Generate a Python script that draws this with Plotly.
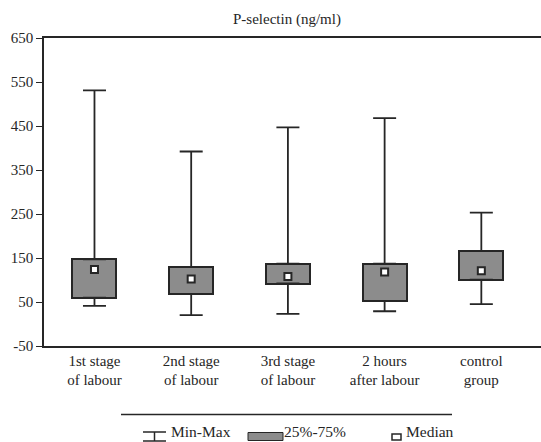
import plotly.graph_objects as go

categories = ["1st stage<br>of labour", "2nd stage<br>of labour", "3rd stage<br>of labour",
              "2 hours<br>after labour", "control<br>group"]
mins = [41, 20, 23, 29, 45]
q1 = [60, 68, 92, 52, 101]
medians = [124, 102, 108, 118, 121]
q3 = [147, 130, 137, 137, 166]
maxs = [531, 392, 447, 468, 253]
y_ticks = [-50, 50, 150, 250, 350, 450, 550, 650]

W, H = 541, 442
L, R, T, B = 44, 0, 38, 96
DARK = "#262626"
GRAY = "#8c8c8c"
FONT = "Liberation Serif, 'Times New Roman', Times, serif"
FS = 15

fig = go.Figure()

# boxes (25%-75%)
fig.add_trace(go.Bar(
    x=categories, y=[b - a for a, b in zip(q1, q3)], base=q1, width=0.455,
    marker=dict(color=GRAY, line=dict(color=DARK, width=2)), showlegend=False,
    hoverinfo="skip"))

# upper whiskers
fig.add_trace(go.Scatter(
    x=categories, y=q3, mode="markers", marker=dict(size=1, color="rgba(0,0,0,0)"),
    error_y=dict(type="data", symmetric=False, array=[m - q for m, q in zip(maxs, q3)],
                 arrayminus=[0] * len(q3), color=DARK, thickness=1.8, width=11.5),
    showlegend=False, hoverinfo="skip"))
# lower whiskers
fig.add_trace(go.Scatter(
    x=categories, y=q1, mode="markers", marker=dict(size=1, color="rgba(0,0,0,0)"),
    error_y=dict(type="data", symmetric=False, array=[0] * len(q1),
                 arrayminus=[q - m for q, m in zip(q1, mins)], color=DARK, thickness=1.8, width=11.5),
    showlegend=False, hoverinfo="skip"))
# medians
fig.add_trace(go.Scatter(
    x=categories, y=medians, mode="markers",
    marker=dict(symbol="square", size=7, color="white", line=dict(color=DARK, width=2)),
    showlegend=False, hoverinfo="skip"))

pw = W - L - R
ph = H - T - B

def px(x):
    return (x - L) / pw

def py(y):
    return (H - B - y) / ph

shapes = [
    # legend separator line
    dict(type="line", xref="paper", yref="paper", x0=px(121), x1=px(452), y0=py(414.5), y1=py(414.5),
         line=dict(color=DARK, width=1.5)),
    # min-max symbol
    dict(type="line", xref="paper", yref="paper", x0=px(143), x1=px(166), y0=py(432), y1=py(432),
         line=dict(color=DARK, width=1.5)),
    dict(type="line", xref="paper", yref="paper", x0=px(154.5), x1=px(154.5), y0=py(432), y1=py(441),
         line=dict(color=DARK, width=1.5)),
    dict(type="line", xref="paper", yref="paper", x0=px(143), x1=px(166), y0=py(441), y1=py(441),
         line=dict(color=DARK, width=1.5)),
    # 25-75 symbol
    dict(type="rect", xref="paper", yref="paper", x0=px(248), x1=px(283), y0=py(432.5), y1=py(440.5),
         fillcolor=GRAY, line=dict(color=DARK, width=1)),
    # median symbol
    dict(type="rect", xref="paper", yref="paper", x0=px(392), x1=px(401), y0=py(434), y1=py(440),
         fillcolor="white", line=dict(color=DARK, width=1.5)),
]

LEG_FS = 15.5
annotations = [
    dict(text="P-selectin (ng/ml)", xref="paper", yref="paper", x=px(287), y=py(20),
         showarrow=False, font=dict(family=FONT, size=FS, color=DARK), xanchor="center", yanchor="middle"),
    dict(text="Min-Max", xref="paper", yref="paper", x=px(169), y=py(442),
         showarrow=False, font=dict(family=FONT, size=LEG_FS, color=DARK), xanchor="left", yanchor="bottom"),
    dict(text="25%-75%", xref="paper", yref="paper", x=px(282), y=py(442),
         showarrow=False, font=dict(family=FONT, size=LEG_FS, color=DARK), xanchor="left", yanchor="bottom"),
    dict(text="Median", xref="paper", yref="paper", x=px(404), y=py(442),
         showarrow=False, font=dict(family=FONT, size=LEG_FS, color=DARK), xanchor="left", yanchor="bottom"),
]

fig.update_layout(
    width=W, height=H,
    margin=dict(l=L, r=R, t=T, b=B, pad=0),
    paper_bgcolor="white", plot_bgcolor="white",
    font=dict(family=FONT, size=FS, color=DARK),
    shapes=shapes, annotations=annotations,
    bargap=0,
    xaxis=dict(type="category", range=[-0.522, 4.617], showgrid=False, zeroline=False,
               showline=True, linecolor=DARK, linewidth=1.5, mirror=True,
               ticks="", tickfont=dict(family=FONT, size=FS, color=DARK)),
    yaxis=dict(range=[-50, 650], tickvals=y_ticks, ticktext=[str(v) for v in y_ticks],
               showgrid=False, zeroline=False, showline=True, linecolor=DARK, linewidth=1.5,
               ticks="outside", ticklen=6, tickwidth=1.2, tickcolor=DARK,
               tickfont=dict(family=FONT, size=FS, color=DARK)),
)

fig.write_html("out.html", config={"displayModeBar": False},
               post_script="document.body.style.margin='0';document.body.style.padding='0';")
